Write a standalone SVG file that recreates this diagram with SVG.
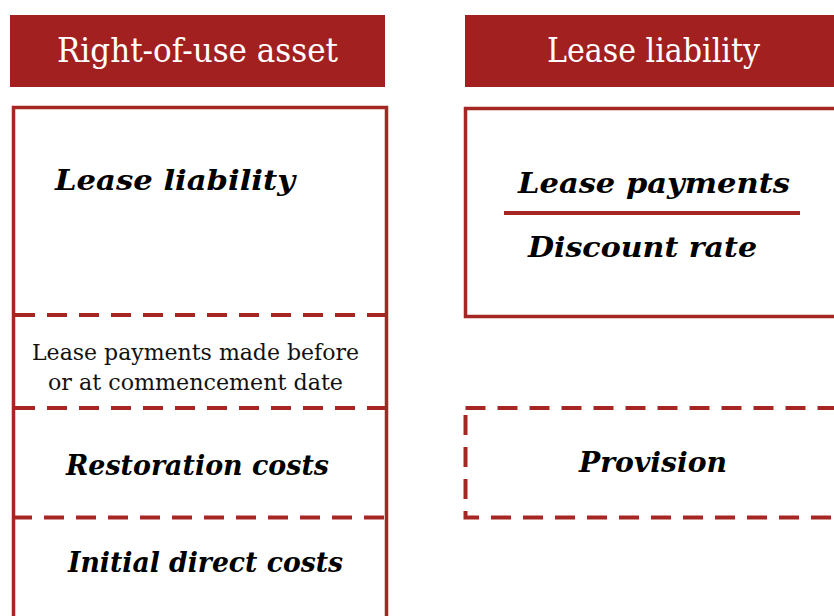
<svg xmlns="http://www.w3.org/2000/svg" width="834" height="616" viewBox="0 0 834 616">
<style>
.hdr{fill:#A32021}
.hdrt{font-family:"DejaVu Serif","Liberation Serif",serif;font-size:33px;fill:#ffffff;text-anchor:middle}
.bi{font-family:"DejaVu Serif","Liberation Serif",serif;font-size:28px;font-weight:bold;font-style:italic;fill:#000000;text-anchor:middle}
.rg{font-family:"DejaVu Serif","Liberation Serif",serif;font-size:22px;fill:#111111;text-anchor:middle}
.solid{fill:none;stroke:#A52622;stroke-width:3.5}
.dash{fill:none;stroke:#A52622;stroke-width:4;stroke-dasharray:20 12}
</style>
<rect width="834" height="616" fill="#ffffff"/>
<g id="header-rou">
<rect class="hdr" x="10" y="15" width="375" height="72"/>
<text class="hdrt" x="197.5" y="62" textLength="281" lengthAdjust="spacingAndGlyphs">Right-of-use asset</text>
</g>
<g id="header-ll">
<rect class="hdr" x="465" y="15" width="380" height="72"/>
<text class="hdrt" x="653.5" y="62" textLength="213" lengthAdjust="spacingAndGlyphs">Lease liability</text>
</g>
<g id="rou-frame">
<path class="solid" d="M13.5 630 V107.5 H386.5 V630"/>
</g>
<g id="rou-lease-liability">
<text class="bi" x="175" y="190" textLength="240" lengthAdjust="spacingAndGlyphs">Lease liability</text>
</g>
<g id="rou-prepaid">
<line class="dash" x1="15" y1="315" x2="385" y2="315"/>
<text class="rg" x="195.5" y="360" textLength="327" lengthAdjust="spacingAndGlyphs">Lease payments made before</text>
<text class="rg" x="195.5" y="390" textLength="295" lengthAdjust="spacingAndGlyphs">or at commencement date</text>
</g>
<g id="rou-restoration">
<line class="dash" x1="15" y1="408" x2="385" y2="408"/>
<text class="bi" x="197.5" y="475" textLength="263" lengthAdjust="spacingAndGlyphs">Restoration costs</text>
</g>
<g id="rou-initial">
<line class="dash" x1="12" y1="517.5" x2="385" y2="517.5"/>
<text class="bi" x="205.5" y="572" textLength="275" lengthAdjust="spacingAndGlyphs">Initial direct costs</text>
</g>
<g id="ll-formula">
<rect class="solid" x="465.5" y="108.5" width="400" height="208"/>
<text class="bi" x="654" y="193" textLength="272" lengthAdjust="spacingAndGlyphs">Lease payments</text>
<line x1="504" y1="213" x2="800" y2="213" stroke="#A52622" stroke-width="4"/>
<text class="bi" x="642.5" y="257" textLength="229" lengthAdjust="spacingAndGlyphs">Discount rate</text>
</g>
<g id="ll-provision">
<rect class="dash" x="465.5" y="408" width="400" height="109.5"/>
<text class="bi" x="653" y="472" textLength="148" lengthAdjust="spacingAndGlyphs">Provision</text>
</g>
<g id="connectors"/>
</svg>
